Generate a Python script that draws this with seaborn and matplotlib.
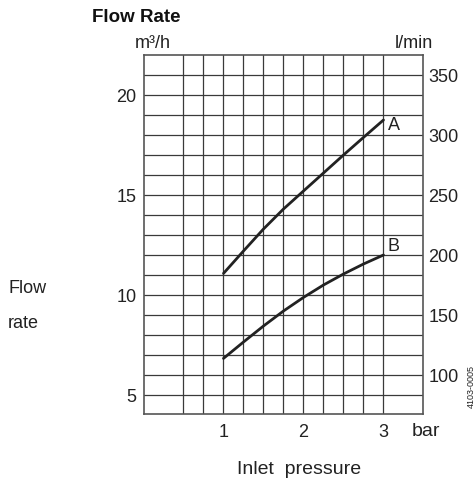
import numpy as np
import pandas as pd
import seaborn as sns
import matplotlib.pyplot as plt

# values
pressure = [1, 1.25, 1.5, 1.75, 2, 2.25, 2.5, 2.75, 3]
flow_a = [11.08, 12.2, 13.3, 14.3, 15.2, 16.1, 17.0, 17.88, 18.75]
flow_b = [6.83, 7.65, 8.45, 9.2, 9.88, 10.5, 11.05, 11.55, 12.0]
curve_names = ['A', 'B']
x_ticks = [1, 2, 3]
y_ticks = [5, 10, 15, 20]
lmin_ticks = [100, 150, 200, 250, 300, 350]

df = pd.DataFrame({
    'pressure': pressure + pressure,
    'flow': flow_a + flow_b,
    'curve': ['A'] * len(pressure) + ['B'] * len(pressure),
})

sns.set_style('white')
plt.rcParams['font.family'] = ['Liberation Sans', 'DejaVu Sans']

W, H = 477, 487
fig = plt.figure(figsize=(W / 100, H / 100), dpi=100)
ax = fig.add_axes([143.5 / W, 1 - 414.3 / H, (423 - 143.5) / W, (414.3 - 55) / H])

grid_col = '#3a3a3a'
line_col = '#222222'

sns.lineplot(data=df, x='pressure', y='flow', hue='curve', palette=[line_col, line_col],
             legend=False, linewidth=2, ax=ax, zorder=3)

ax.set_xlim(0, 3.494)
ax.set_ylim(4.035, 22)
ax.set_xticks(x_ticks)
ax.set_xticks(np.arange(0.5, 3.01, 0.25), minor=True)
ax.set_yticks(y_ticks)
ax.set_yticks(np.arange(5, 21.5, 1), minor=True)
ax.grid(which='both', color=grid_col, linewidth=0.9)
ax.tick_params(which='both', length=0, labelsize=13, colors='#222222')
ax.tick_params(axis='x', pad=7)
ax.tick_params(axis='y', pad=5)
ax.set_xlabel('')
ax.set_ylabel('')
for s in ax.spines.values():
    s.set_color('#555555')
    s.set_linewidth(1.2)

# curve labels
ya = {'A': 18.5, 'B': 12.45}
for name in curve_names:
    ax.text(3.05, ya[name], name, fontsize=13, color='#222222', ha='left', va='center')

# right hand l/min axis
ax2 = ax.twinx()
lo, hi = ax.get_ylim()
ax2.set_ylim(lo * 1000 / 60, hi * 1000 / 60)
ax2.set_yticks(lmin_ticks)
ax2.tick_params(length=0, labelsize=13, colors='#222222', pad=4)
for s in ax2.spines.values():
    s.set_visible(False)

def fx(px):
    return px / W

def fy(py):
    return 1 - py / H

fig.text(fx(180), fy(21.7), 'Flow Rate', fontsize=13.5, fontweight='bold',
         ha='right', va='baseline', color='#111111')
fig.text(fx(135), fy(48.3), 'm³/h', fontsize=13, ha='left', va='baseline', color='#222222')
fig.text(fx(433), fy(48.3), 'l/min', fontsize=13, ha='right', va='baseline', color='#222222')
fig.text(fx(8), fy(293), 'Flow', fontsize=13, ha='left', va='baseline', color='#222222')
fig.text(fx(8), fy(328), 'rate', fontsize=13, ha='left', va='baseline', color='#222222')
fig.text(fx(299), fy(474), 'Inlet  pressure', fontsize=14, ha='center', va='baseline',
         color='#222222')
fig.text(fx(426), fy(436), 'bar', fontsize=14, ha='center', va='baseline', color='#222222')
fig.text(fx(471), fy(386), '4103-0005', fontsize=6.5, rotation=90, ha='center', va='center',
         color='#222222')

fig.savefig('out.png', dpi=100)
